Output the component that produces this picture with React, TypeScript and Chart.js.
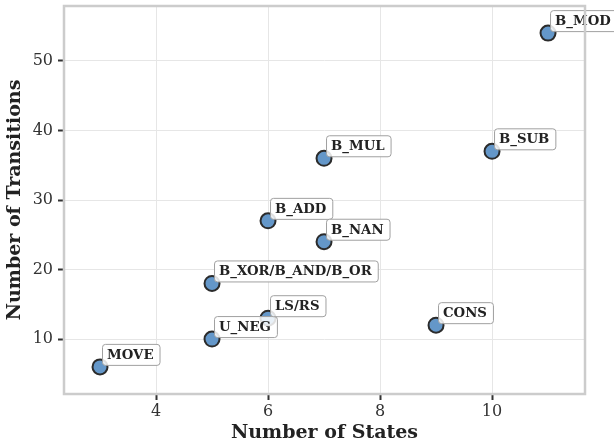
import React, { useEffect, useRef } from "react";
import { Chart, registerables } from "chart.js";

Chart.register(...registerables);

const labels = ["MOVE", "U_NEG", "B_XOR/B_AND/B_OR", "LS/RS", "B_ADD", "B_NAN", "B_MUL", "CONS", "B_SUB", "B_MOD"];
const states = [3, 5, 5, 6, 6, 7, 7, 9, 10, 11];
const transitions = [6, 10, 18, 13, 27, 24, 36, 12, 37, 54];
const xTicks = [4, 6, 8, 10];
const yTicks = [10, 20, 30, 40, 50];

const FONT = "'DejaVu Serif', serif";

const labelPlugin = {
  id: "pointLabels",
  afterDatasetsDraw(chart: any) {
    const ctx = chart.ctx;
    const meta = chart.getDatasetMeta(0);
    ctx.save();
    ctx.font = `bold 13.3px ${FONT}`;
    ctx.textBaseline = "middle";
    ctx.textAlign = "left";
    meta.data.forEach((el: any, i: number) => {
      const px = el.x;
      const py = el.y;
      const text = labels[i];
      const w = ctx.measureText(text).width;
      const bx = px + 2;
      const by = py - 23;
      const bw = w + 11;
      const bh = 21;
      ctx.beginPath();
      (ctx as any).roundRect(bx + 0.5, by + 0.5, bw, bh, 3);
      ctx.fillStyle = "rgba(255,255,255,0.85)";
      ctx.fill();
      ctx.lineWidth = 1;
      ctx.strokeStyle = "#a0a0a0";
      ctx.stroke();
      ctx.fillStyle = "#222";
      ctx.fillText(text, bx + 5, by + bh / 2 + 1);
    });
    ctx.restore();
  },
};

const framePlugin = {
  id: "frame",
  afterDraw(chart: any) {
    const { ctx, chartArea } = chart;
    ctx.save();
    ctx.strokeStyle = "#cccccc";
    ctx.lineWidth = 2.5;
    ctx.strokeRect(chartArea.left, chartArea.top, chartArea.right - chartArea.left, chartArea.bottom - chartArea.top);
    ctx.restore();
  },
};

export default function App() {
  const ref = useRef<HTMLCanvasElement>(null);
  useEffect(() => {
    document.body.style.margin = "0";
    const chart = new Chart(ref.current!, {
      type: "scatter",
      data: {
        datasets: [
          {
            data: states.map((s, i) => ({ x: s, y: transitions[i] })),
            backgroundColor: "#6497c9",
            borderColor: "#2b2b2b",
            borderWidth: 2,
            pointRadius: 7.5,
          },
        ],
      },
      options: {
        responsive: false,
        animation: false,
        layout: { autoPadding: false, padding: { top: 6, right: 29, left: 0, bottom: 0 } },
        plugins: { legend: { display: false }, tooltip: { enabled: false } },
        scales: {
          x: {
            type: "linear",
            min: 2.357,
            max: 11.66,
            afterBuildTicks: (s: any) => {
              s.ticks = xTicks.map((v) => ({ value: v }));
            },
            afterFit: (s: any) => {
              s.height = 50;
              s.paddingLeft = 0;
              s.paddingRight = 0;
            },
            grid: { color: "#e6e6e6", lineWidth: 1, tickColor: "#333", tickLength: 6, tickWidth: 2 },
            border: { display: false },
            ticks: { color: "#333", font: { family: FONT, size: 16 }, padding: 2 },
            title: {
              display: true,
              text: "Number of States",
              color: "#222",
              font: { family: FONT, size: 19, weight: "bold" },
              padding: { top: 0, bottom: 0 },
            },
          },
          y: {
            type: "linear",
            min: 2.1,
            max: 57.9,
            afterBuildTicks: (s: any) => {
              s.ticks = yTicks.map((v) => ({ value: v }));
            },
            afterFit: (s: any) => {
              s.width = 64;
              s.paddingTop = 0;
              s.paddingBottom = 0;
            },
            grid: { color: "#e6e6e6", lineWidth: 1, tickColor: "#333", tickLength: 6, tickWidth: 2 },
            border: { display: false },
            ticks: { color: "#333", font: { family: FONT, size: 16, lineHeight: 0.6 }, padding: 5 },
            title: {
              display: true,
              text: "Number of Transitions",
              color: "#222",
              font: { family: FONT, size: 19, weight: "bold" },
              padding: { top: 4, bottom: 0 },
            },
          },
        },
      },
      plugins: [framePlugin, labelPlugin],
    } as any);
    return () => chart.destroy();
  }, []);
  return (
    <div style={{ width: 614, height: 444 }}>
      <canvas ref={ref} width={614} height={444} style={{ display: "block" }} />
    </div>
  );
}
